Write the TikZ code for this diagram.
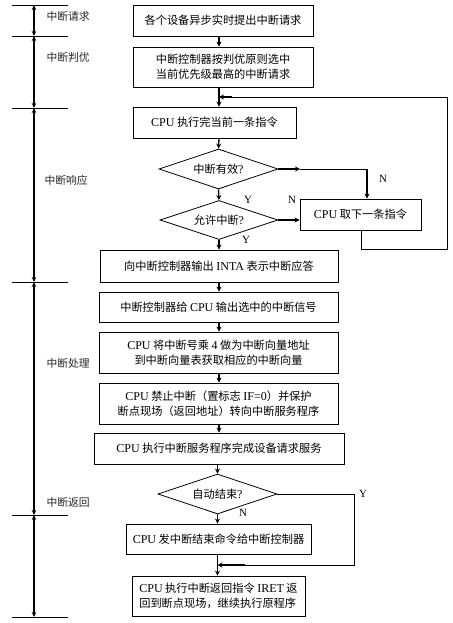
\documentclass[tikz,border=0pt]{standalone}
\usepackage{fontspec}
\setmainfont{Noto Sans CJK SC}
\newfontfamily\latf{Liberation Serif}
\newcommand\ltn[1]{{\latf\fontsize{12pt}{15pt}\selectfont #1}}
\usetikzlibrary{shapes.geometric,arrows.meta}
\begin{document}
\begin{tikzpicture}[x=1pt,y=-1pt,
 txt/.style={font=\fontsize{11.2pt}{15pt}\selectfont},
 box/.style={txt, draw, line width=0.8pt, rectangle, inner sep=0pt, align=center},
 dia/.style={txt, draw, line width=0.8pt, diamond, inner sep=0pt, shape aspect=3},
 arr/.style={line width=1.3pt, -{Stealth[length=5pt,width=5pt]}},
 ln/.style={line width=0.8pt},
 phase/.style={font=\fontsize{10.8pt}{13pt}\selectfont, anchor=west, text=black!85},
 yn/.style={font=\latf\fontsize{11pt}{13pt}\selectfont},
 span/.style={line width=1.4pt, {Stealth[length=5pt,width=4.5pt]}-{Stealth[length=5pt,width=4.5pt]}}
]
\useasboundingbox (0,0) rectangle (452,623);
% timeline
\foreach \n/\y in {0/5,1/36,2/108,3/282,4/515,5/617}{
  \coordinate (t\n) at (34,\y);
  \draw[ln] ([xshift=-22pt]t\n) -- ([xshift=34pt]t\n);
}
\draw[span] (t0) -- (t1);
\draw[span] (t1) -- (t2);
\draw[span] (t2) -- (t3);
\draw[span] (t3) -- (t4);
\draw[span] (t4) -- (t5);
\node[phase] (p1) at (43,16) {中断请求};
\node[phase] (p2) at (43,57) {中断判优};
\node[phase] (p3) at (41,180) {中断响应};
\node[phase] (p4) at (43,363) {中断处理};
\node[phase] (p5) at (43,502) {中断返回};
% boxes
\node[box, minimum width=180, minimum height=31] (b1) at (223,20.5) {各个设备异步实时提出中断请求};
\node[box, minimum width=180, minimum height=40, align=left] (b2) at (223,67) {中断控制器按判优原则选中\\当前优先级最高的中断请求};
\node[box, minimum width=163, minimum height=31] (b3) at (214.5,122.5) {\ltn{CPU} 执行完当前一条指令};
\node[dia, minimum width=119, minimum height=40] (d1) at (218.5,169) {中断有效\ltn{?}};
\node[dia, minimum width=118, minimum height=39] (d2) at (219,220) {允许中断\ltn{?}};
\node[box, minimum width=121, minimum height=31] (nx) at (360.5,214.5) {\ltn{CPU} 取下一条指令};
\node[box, minimum width=238, minimum height=32] (b4) at (219,266) {向中断控制器输出 \ltn{INTA} 表示中断应答};
\node[box, minimum width=239, minimum height=30] (b5) at (218.5,307) {中断控制器给 \ltn{CPU} 输出选中的中断信号};
\node[box, minimum width=239, minimum height=41] (b6) at (218.5,352.5) {\ltn{CPU} 将中断号乘 \ltn{4} 做为中断向量地址\\到中断向量表获取相应的中断向量};
\node[box, minimum width=239, minimum height=41] (b7) at (218.5,403.5) {\ltn{CPU} 禁止中断（置标志 \ltn{IF=0}）并保护\\断点现场（返回地址）转向中断服务程序};
\node[box, minimum width=250, minimum height=31] (b8) at (219,448.5) {\ltn{CPU} 执行中断服务程序完成设备请求服务};
\node[dia, minimum width=119, minimum height=40] (d3) at (217.5,494) {自动结束\ltn{?}};
\node[box, minimum width=185, minimum height=30] (b9) at (218.5,539) {\ltn{CPU} 发中断结束命令给中断控制器};
\node[box, minimum width=173, minimum height=40, align=left] (b10) at (218.5,596) {\ltn{CPU} 执行中断返回指令 \ltn{IRET} 返\\回到断点现场，继续执行原程序};
% center line
\coordinate (cx) at (219,0);
\draw[arr] (b1.south -| cx) -- (b2.north -| cx);
\draw[arr] (b2.south -| cx) -- (b3.north -| cx);
\draw[arr] (b3.south -| cx) -- (d1.north);
\draw[arr] (d1.south) -- (d2.north);
\draw[arr] (d2.south) -- (b4.north -| d2.south);
\draw[arr] (b4.south -| cx) -- (b5.north -| cx);
\draw[arr] (b5.south -| cx) -- (b6.north -| cx);
\draw[arr] (b6.south -| cx) -- (b7.north -| cx);
\draw[arr] (b7.south -| cx) -- (b8.north -| cx);
\draw[arr] (b8.south -| d3.north) -- (d3.north);
\draw[arr] (d3.south) -- (b9.north -| d3.south);
% N branch of d1
\coordinate (n1) at (300,169);
\coordinate (n2) at (367,169);
\draw[arr] (d1.east) -- (n1);
\draw[ln] (n1) -- (n2);
\draw[arr] (n2) -- (n2 |- nx.north);
% N branch of d2
\draw[arr] (d2.east) -- (d2.east -| nx.west);
% loop back
\coordinate (l1) at (361,249);
\coordinate (l2) at (447,249);
\coordinate (l3) at (447,97);
\coordinate (l4) at (232,97);
\draw[ln] (nx.south -| l1) -- (l1) -- (l2) -- (l3) -- (l4);
\draw[arr] (l4) -- (l4 -| cx);
% Y branch of d3
\coordinate (y1) at (354,494);
\coordinate (y2) at (354,565);
\coordinate (y3) at (245,565);
\draw[ln] (d3.east) -- (y1) -- (y2) -- (y3);
\draw[arr] (y3) -- (y3 -| d3.south);
\draw[line width=1.3pt] (b9.south -| d3.south) -- (d3.south |- y2);
\draw[arr] (d3.south |- y2) -- (b10.north -| d3.south);
% labels
\node[yn] (ln1) at (383,179) {N};
\node[yn] (ly1) at (248,200) {Y};
\node[yn] (ln2) at (292,200) {N};
\node[yn] (ly2) at (246,240) {Y};
\node[yn] (ln3) at (243,513) {N};
\node[yn] (ly3) at (363,494) {Y};
\end{tikzpicture}
\end{document}
